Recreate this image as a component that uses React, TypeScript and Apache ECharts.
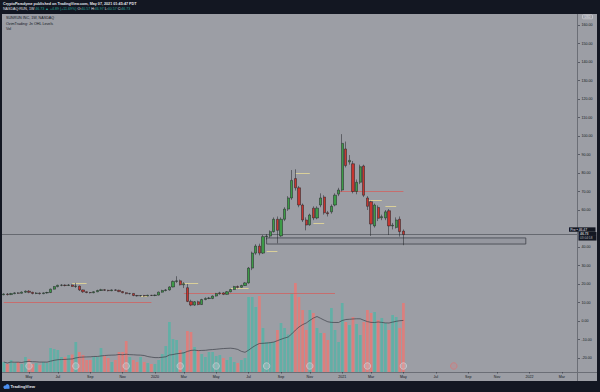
import React, { useEffect, useRef } from "react";
import * as echarts from "echarts";

// ---------------- data ----------------
const firstWeek = "2019-03-18";
const axisWeeks = 160;

const opens = [
  14.2, 14.6, 14.3, 14.8, 15.2, 15.0, 15.6, 16.1, 15.5, 14.9,
  15.1, 14.8, 15.2, 15.4, 17.2, 18.6, 19.3, 19.4, 19.2, 19.5,
  18.7, 18.9, 16.8, 15.8, 15.4, 15.3, 15.8, 16.5, 16.9, 16.6,
  16.4, 16.8, 16.6, 15.9, 15.3, 14.8, 14.9, 13.8, 13.6, 13.8,
  13.5, 13.9, 13.8, 14.0, 15.6, 16.5, 16.8, 18.4, 21.4, 21.7,
  19.6, 18.0, 10.6, 8.6, 10.4, 8.9, 11.6, 12.2, 12.2, 13.5,
  14.8, 15.2, 14.4, 15.8, 17.0, 18.6, 18.2, 19.2, 20.6, 28.6,
  36.7, 40.5, 36.7, 45.6, 45.9, 48.3, 55.0, 46.0, 55.0, 60.5,
  66.5, 77.0, 72.0, 62.7, 54.6, 52.0, 61.0, 55.7, 62.7, 67.0,
  58.5, 59.0, 62.7, 68.6, 70.8, 93.0, 86.0, 85.0, 70.0, 75.0,
  83.8, 66.5, 64.5, 51.4, 61.4, 55.8, 55.7, 59.6, 51.4, 50.6,
  55.0, 48.6,
];
const closes = [
  14.6, 14.3, 14.8, 15.2, 15.0, 15.6, 16.1, 15.5, 14.9, 15.1,
  14.8, 15.2, 15.4, 17.2, 18.6, 19.3, 19.4, 19.2, 19.5, 18.7,
  18.9, 16.8, 15.8, 15.4, 15.3, 15.8, 16.5, 16.9, 16.6, 16.4,
  16.8, 16.6, 15.9, 15.3, 14.8, 14.9, 13.8, 13.6, 13.8, 13.5,
  13.9, 13.8, 14.0, 15.6, 16.5, 16.8, 18.4, 21.4, 21.7, 19.6,
  20.2, 10.6, 8.6, 10.4, 8.9, 11.6, 12.2, 12.4, 13.5, 14.8,
  15.2, 14.4, 15.8, 17.0, 18.6, 18.2, 19.2, 20.6, 28.6, 36.7,
  40.5, 36.7, 45.6, 45.9, 48.3, 55.0, 49.0, 55.0, 60.5, 66.5,
  76.0, 72.0, 62.7, 54.6, 51.9, 57.3, 55.7, 61.0, 66.5, 58.5,
  58.0, 62.0, 68.0, 70.8, 96.0, 84.0, 86.8, 70.0, 75.0, 83.4,
  68.0, 62.0, 52.4, 62.7, 55.5, 56.4, 59.0, 51.4, 51.8, 54.6,
  48.3, 46.73,
];
const lows = [
  13.9, 13.8, 14.0, 14.5, 14.6, 14.8, 15.2, 15.0, 14.4, 14.5,
  14.3, 14.5, 14.8, 15.1, 17.0, 18.2, 18.8, 18.7, 18.9, 18.4,
  17.9, 16.2, 15.2, 15.0, 14.9, 15.0, 15.6, 16.2, 16.2, 16.0,
  16.1, 16.3, 15.6, 15.0, 14.4, 14.3, 13.4, 13.2, 13.2, 13.1,
  13.3, 13.5, 13.4, 13.8, 15.3, 16.0, 16.4, 18.2, 20.6, 19.2,
  17.8, 10.2, 8.0, 8.2, 8.5, 8.7, 11.2, 11.8, 11.8, 13.2,
  14.2, 14.0, 14.2, 15.5, 16.8, 17.6, 17.9, 19.0, 20.2, 27.5,
  35.8, 35.5, 36.2, 44.0, 45.0, 47.8, 42.0, 45.5, 54.0, 59.5,
  65.5, 70.5, 61.5, 53.5, 49.0, 51.5, 54.5, 55.0, 61.5, 57.5,
  56.5, 58.0, 62.0, 67.5, 70.0, 83.0, 84.5, 69.0, 68.5, 74.0,
  67.0, 60.0, 46.0, 50.5, 54.0, 54.5, 54.5, 46.5, 49.5, 50.0,
  45.6, 40.97,
];
const highs = [
  15.0, 15.1, 15.2, 15.6, 15.6, 16.0, 16.5, 16.7, 15.8, 15.6,
  15.4, 15.5, 15.8, 17.5, 18.9, 19.6, 19.9, 19.8, 20.0, 19.8,
  20.6, 19.1, 17.0, 16.0, 15.7, 16.1, 16.9, 17.4, 17.3, 16.9,
  17.1, 17.2, 16.9, 16.2, 15.6, 15.2, 15.0, 14.1, 14.0, 14.1,
  14.2, 14.1, 14.3, 15.9, 16.9, 17.3, 18.8, 21.9, 24.2, 22.4,
  21.0, 20.0, 11.5, 10.8, 11.0, 12.0, 12.8, 13.0, 13.8, 15.2,
  15.8, 15.6, 16.2, 17.5, 19.0, 19.2, 19.6, 21.0, 29.2, 37.5,
  41.5, 41.8, 46.5, 47.0, 49.0, 56.0, 56.5, 56.0, 61.5, 67.5,
  81.6, 82.0, 73.0, 63.5, 56.0, 58.0, 62.0, 62.0, 69.0, 68.0,
  59.5, 63.0, 69.0, 72.0, 101.0, 97.0, 89.7, 86.5, 76.5, 84.5,
  84.5, 67.5, 65.0, 63.5, 62.5, 57.5, 60.0, 60.5, 53.0, 56.0,
  56.5, 49.5,
];
// weekly volume, millions
const volumes = [
  4.0, 3.2, 4.8, 3.6, 4.0, 3.2, 6.0, 5.2, 3.2, 3.6,
  2.8, 4.0, 3.6, 9.6, 9.2, 8.8, 6.0, 6.0, 6.8, 7.0,
  12.0, 8.0, 6.8, 4.8, 4.8, 6.0, 6.0, 9.6, 6.4, 5.6,
  4.0, 4.8, 8.0, 8.0, 12.4, 6.0, 4.8, 4.0, 6.0, 4.0,
  3.6, 3.2, 3.2, 4.8, 7.2, 10.4, 20.0, 13.2, 12.8, 8.8,
  8.0, 16.4, 16.0, 10.0, 8.8, 7.2, 6.0, 8.0, 8.0, 6.4,
  6.8, 5.6, 4.8, 6.0, 4.0, 3.6, 4.8, 5.6, 30.0, 30.0,
  26.0, 30.4, 17.6, 12.0, 12.0, 12.0, 16.8, 19.6, 17.6, 15.0,
  31.6, 35.6, 30.0, 24.8, 16.8, 24.8, 23.6, 17.6, 15.6, 15.6,
  12.8, 25.6, 16.8, 12.0, 27.6, 20.0, 18.8, 22.0, 19.2, 14.8,
  20.0, 24.8, 23.6, 24.0, 20.8, 21.6, 19.6, 16.8, 22.8, 22.0,
  17.6, 27.6,
];
const volMaLength = 20;

const earningsWeeks = [
  "2019-05-06", "2019-08-05", "2019-11-11", "2020-02-24", "2020-05-04",
  "2020-08-10", "2020-11-02", "2021-02-22", "2021-05-03",
];
const upcomingEarningsWeeks = ["2021-08-09"];

// OHL level segments: [from week, to week, price]
const redLevels: [string, string, number][] = [
  ["2019-03-18", "2019-12-30", 9.9],
  ["2020-03-02", "2020-12-21", 14.8],
  ["2020-12-28", "2021-05-03", 70.4],
];
const yellowLevels: [string, string, number][] = [
  ["2019-07-29", "2019-08-26", 20.4],
  ["2019-12-09", "2019-12-23", 13.5],
  ["2020-02-24", "2020-03-30", 20.4],
  ["2020-06-01", "2020-07-06", 17.7],
  ["2020-08-10", "2020-08-31", 37.5],
  ["2020-10-05", "2020-11-02", 79.8],
  ["2020-11-09", "2020-11-30", 52.8],
  ["2021-02-22", "2021-03-22", 65.4],
  ["2021-03-29", "2021-04-19", 62.2],
];
// support zone
const zoneFrom = "2020-08-10";
const zoneTo = "2021-12-27";
const zoneHigh = 44.9;
const zoneLow = 41.6;

const lastClose = 46.73;
const preMarket = 46.47;
const countdown = "03:04:58";

const priceMin = -30;
const priceMax = 170;
const priceStep = 10;
const volAxisMax = 40;

const monthNames = ["Jan", "Feb", "Mar", "Apr", "May", "Jun", "Jul", "Aug", "Sep", "Oct", "Nov", "Dec"];

// ---------------- styles ----------------
const PANEL = "#9c9ea5";
const DARK = "#131722";
const TEXT = "#131722";
const FONT = "'Liberation Sans', Arial, sans-serif";
const UP = "#3d9b47";
const DOWN = "#c7352f";
const VOL_UP = "#62afa6";
const VOL_DOWN = "#dc7f7d";

function weekList(): string[] {
  const [y, m, d] = firstWeek.split("-").map(Number);
  const out: string[] = [];
  for (let i = 0; i < axisWeeks; i++) {
    out.push(new Date(Date.UTC(y, m - 1, d + 7 * i)).toISOString().slice(0, 10));
  }
  return out;
}

export default function App() {
  const ref = useRef<HTMLDivElement>(null);

  useEffect(() => {
    document.body.style.margin = "0";
    const el = ref.current;
    if (!el) return;
    const chart = echarts.init(el, undefined, { renderer: "svg", width: 600, height: 392 });

    const weeks = weekList();
    const monthOf = (s: string) => Number(s.slice(5, 7)) - 1;
    const isLabelWeek = (i: number) => {
      if (i === 0) return false;
      const m = monthOf(weeks[i]);
      return m !== monthOf(weeks[i - 1]) && m % 2 === 0;
    };
    const labelText = (v: string) => {
      const m = monthOf(v);
      return m === 0 ? v.slice(0, 4) : monthNames[m];
    };

    const candleData = opens.map((o, i) => [o, closes[i], lows[i], highs[i]]);
    const volData = volumes.map((v, i) => ({
      value: v,
      itemStyle: { color: closes[i] >= opens[i] ? VOL_UP : VOL_DOWN },
    }));
    const volMa = volumes.map((_, i) => {
      const from = Math.max(0, i - volMaLength + 1);
      const win = volumes.slice(from, i + 1);
      return +(win.reduce((a, b) => a + b, 0) / win.length).toFixed(2);
    });

    const levelLines: any[] = [
      ...redLevels.map(([a, b, v]) => [
        { coord: [a, v], lineStyle: { color: "#d0625f", width: 0.8, type: "solid" } },
        { coord: [b, v] },
      ]),
      ...yellowLevels.map(([a, b, v]) => [
        { coord: [a, v], lineStyle: { color: "#e9dc95", width: 0.8, type: "solid" } },
        { coord: [b, v] },
      ]),
      { yAxis: lastClose, lineStyle: { color: "#41444c", width: 0.6, type: "solid" } },
    ];

    const option: any = {
      animation: false,
      backgroundColor: PANEL,
      textStyle: { fontFamily: FONT },
      grid: [
        { left: 2, right: 22, top: 6.5, bottom: 15.5 },
        { left: 2, right: 22, bottom: 20, height: 100 },
      ],
      xAxis: [
        { type: "category", gridIndex: 0, data: weeks, boundaryGap: true, show: false },
        {
          type: "category",
          gridIndex: 1,
          data: weeks,
          boundaryGap: true,
          axisLine: { lineStyle: { color: "#6b6e76", width: 1 } },
          axisTick: {
            show: true,
            alignWithLabel: true,
            length: 1.5,
            interval: (i: number) => isLabelWeek(i),
            lineStyle: { color: "#2a2e39", width: 0.6 },
          },
          axisLabel: {
            interval: (i: number) => isLabelWeek(i),
            formatter: (v: string) => labelText(v),
            fontSize: 3.6,
            color: TEXT,
            margin: 2.5,
            fontFamily: FONT,
          },
          splitLine: { show: false },
        },
      ],
      yAxis: [
        {
          type: "value",
          gridIndex: 0,
          position: "right",
          min: priceMin,
          max: priceMax,
          interval: priceStep,
          axisLine: { show: false },
          axisTick: { show: true, length: 2, lineStyle: { color: "#2a2e39", width: 0.6 } },
          splitLine: { show: false },
          axisLabel: {
            // the tick next to the last price is hidden behind the price labels
            formatter: (v: number) =>
              v > 160 || v < -20 || Math.abs(v - lastClose) < 5 ? "" : v.toFixed(2),
            fontSize: 3.6,
            color: TEXT,
            margin: 3.5,
            fontFamily: FONT,
          },
        },
        { type: "value", gridIndex: 1, min: 0, max: volAxisMax, show: false },
      ],
      series: [
        {
          type: "bar",
          name: "Vol",
          xAxisIndex: 1,
          yAxisIndex: 1,
          data: volData,
          barWidth: 2.7,
          z: 1,
          silent: true,
        },
        {
          type: "line",
          name: "Vol MA",
          xAxisIndex: 1,
          yAxisIndex: 1,
          data: volMa,
          symbol: "none",
          lineStyle: { color: "#3e4149", width: 0.7 },
          z: 2,
          silent: true,
        },
        {
          type: "scatter",
          xAxisIndex: 1,
          yAxisIndex: 1,
          data: earningsWeeks.map((w) => [w, 0]),
          symbol: "circle",
          symbolSize: 6.5,
          symbolOffset: [0, -6],
          itemStyle: { color: "rgba(225,227,232,0.3)", borderColor: "#d3d5db", borderWidth: 0.8 },
          z: 4,
          silent: true,
        },
        {
          type: "scatter",
          xAxisIndex: 1,
          yAxisIndex: 1,
          data: upcomingEarningsWeeks.map((w) => [w, 0]),
          symbol: "circle",
          symbolSize: 6.5,
          symbolOffset: [0, -6],
          itemStyle: { color: "rgba(230,120,120,0.25)", borderColor: "#e07070", borderWidth: 0.8 },
          z: 4,
          silent: true,
        },
        {
          type: "candlestick",
          name: "RUN",
          xAxisIndex: 0,
          yAxisIndex: 0,
          data: candleData,
          barWidth: 2.8,
          z: 5,
          silent: true,
          itemStyle: {
            color: UP,
            color0: DOWN,
            borderColor: "#1f2024",
            borderColor0: "#1f2024",
            borderWidth: 0.5,
          },
          markLine: {
            silent: true,
            symbol: ["none", "none"],
            label: { show: false },
            data: levelLines,
          },
          markArea: {
            silent: true,
            itemStyle: { color: "rgba(120,123,134,0.18)", borderColor: "#3f424a", borderWidth: 0.8 },
            data: [[{ coord: [zoneFrom, zoneHigh] }, { coord: [zoneTo, zoneLow] }]],
          },
        },
      ],
    };

    chart.setOption(option);
    const py = chart.convertToPixel({ yAxisIndex: 0 }, lastClose) as number;

    const txt = (id: string, x: number, y: number, text: string, size: number, fill: string, weight = "normal", align = "left") => ({
      type: "text",
      id,
      x,
      y,
      z: 104,
      silent: true,
      style: {
        text,
        fill,
        fontSize: size,
        fontFamily: FONT,
        fontWeight: weight,
        align,
        verticalAlign: "middle",
      },
    });

    const graphic: any[] = [
      { type: "rect", id: "hdr", z: 100, silent: true, shape: { x: 0, y: 0, width: 600, height: 14 }, style: { fill: DARK } },
      { type: "rect", id: "ftr", z: 100, silent: true, shape: { x: 0, y: 381, width: 600, height: 11 }, style: { fill: DARK } },
      { type: "rect", id: "lf", z: 100, silent: true, shape: { x: 0, y: 0, width: 2, height: 392 }, style: { fill: DARK } },
      { type: "rect", id: "rf", z: 100, silent: true, shape: { x: 597, y: 0, width: 3, height: 392 }, style: { fill: DARK } },
      { type: "rect", id: "corner", z: 99, silent: true, shape: { x: 578, y: 372.5, width: 19, height: 8.5 }, style: { fill: PANEL } },
      { type: "line", id: "sep", z: 101, silent: true, shape: { x1: 577.5, y1: 14, x2: 577.5, y2: 381 }, style: { stroke: "#6b6e76", lineWidth: 1 } },
      { type: "line", id: "sep2", z: 101, silent: true, shape: { x1: 577.5, y1: 372.5, x2: 597, y2: 372.5 }, style: { stroke: "#6b6e76", lineWidth: 1 } },
      txt("h1", 3, 3.8, "CryptoParadyme published on TradingView.com, May 07, 2021 01:45:47 PDT", 3.7, "#e1e3ea", "bold"),
      {
        type: "text",
        id: "h2",
        x: 3,
        y: 9.4,
        z: 104,
        silent: true,
        style: {
          text:
            "{w|NASDAQ:RUN, 1W} {g|46.73 ▲ +4.89 (+11.69%)} {w|O:}{g|40.57} {w|H:}{g|46.97} {w|L:}{g|40.57} {w|C:}{g|46.73}",
          fontSize: 3.6,
          fontFamily: FONT,
          verticalAlign: "middle",
          rich: {
            w: { fill: "#e1e3ea", color: "#e1e3ea", fontSize: 3.6, fontFamily: FONT },
            g: { fill: "#26a69a", color: "#26a69a", fontSize: 3.6, fontFamily: FONT },
          },
        },
      },
      txt("p1", 6, 18.3, "SUNRUN INC, 1W, NASDAQ", 3.7, TEXT),
      txt("p2", 6, 23.8, "OzimTrading: Jn OHL Levels", 3.7, TEXT),
      txt("p3", 6, 29.2, "Vol", 3.7, TEXT),
      { type: "rect", id: "usdb", z: 101, silent: true, shape: { x: 582.5, y: 14.8, width: 10, height: 4, r: 0.8 }, style: { fill: "none", stroke: "#d6d8de", lineWidth: 0.6 } },
      txt("usd", 587.5, 16.9, "USD", 2.8, "#e1e3ea", "normal", "center"),
      // TradingView logo
      { type: "circle", id: "lg1", z: 101, silent: true, shape: { cx: 5, cy: 387.2, r: 1.6 }, style: { fill: "#4b8ff0" } },
      { type: "circle", id: "lg2", z: 101, silent: true, shape: { cx: 7.4, cy: 386.2, r: 2.1 }, style: { fill: "#4b8ff0" } },
      { type: "rect", id: "lg3", z: 101, silent: true, shape: { x: 4.2, y: 386.8, width: 5.3, height: 2 }, style: { fill: "#4b8ff0" } },
      txt("tv", 10.5, 386.8, "TradingView", 4.2, "#e1e3ea", "bold"),
      // price labels on the axis
      { type: "rect", id: "preb", z: 103, silent: true, shape: { x: 569, y: py - 7.2, width: 26.5, height: 4.4 }, style: { fill: DARK } },
      txt("pret", 570.3, py - 5.0, `Pre • ${preMarket.toFixed(2)}`, 3.4, "#e1e3ea"),
      { type: "rect", id: "lastb", z: 103, silent: true, shape: { x: 578.5, y: py - 2.6, width: 18, height: 4 }, style: { fill: DARK } },
      txt("lastt", 580, py - 0.6, lastClose.toFixed(2), 3.4, "#ffffff"),
      { type: "rect", id: "cdb", z: 103, silent: true, shape: { x: 578.5, y: py + 1.4, width: 18, height: 4.6 }, style: { fill: DARK } },
      txt("cdt", 580, py + 3.7, countdown, 3.2, "#b2b5be"),
    ];

    chart.setOption({ graphic });

    return () => {
      chart.dispose();
    };
  }, []);

  return <div ref={ref} style={{ width: 600, height: 392 }} />;
}
